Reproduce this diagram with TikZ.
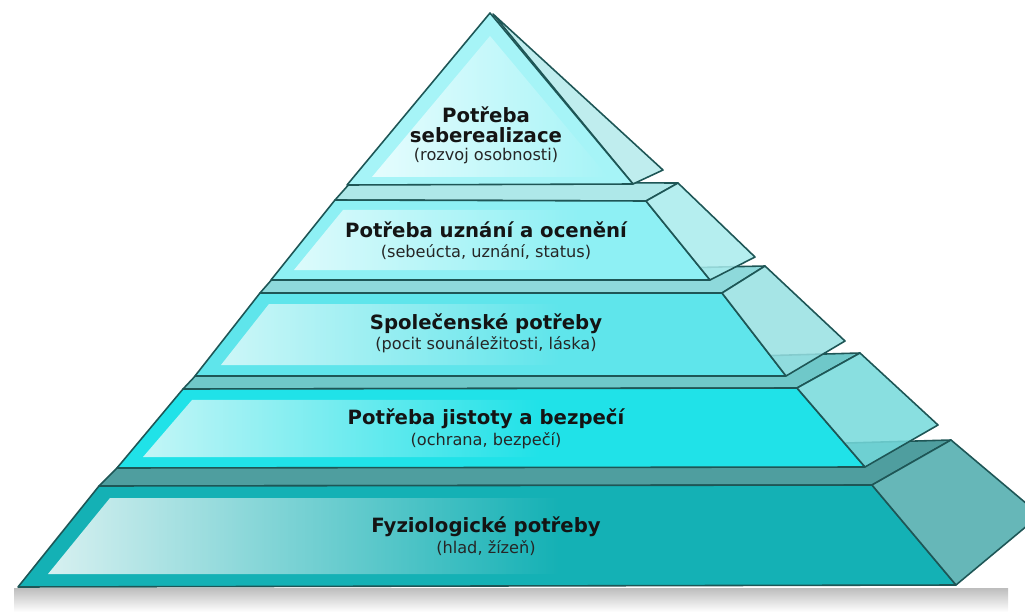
\documentclass[tikz,border=0pt]{standalone}
\usepackage{fontspec}
\setmainfont{DejaVu Sans}
\usetikzlibrary{fadings}

\definecolor{rimcol}{HTML}{1E5656}
\definecolor{face1}{HTML}{A6F4F7}\definecolor{glow1}{HTML}{E6FDFE}\definecolor{side1}{HTML}{B4EAEB}
\definecolor{face2}{HTML}{8EF0F4}\definecolor{glow2}{HTML}{DDFBFC}\definecolor{side2}{HTML}{A8EBEC}
\definecolor{face3}{HTML}{5FE5EB}\definecolor{glow3}{HTML}{CDF7F8}\definecolor{side3}{HTML}{96E0E2}
\definecolor{face4}{HTML}{20E2E8}\definecolor{glow4}{HTML}{C4F6F7}\definecolor{side4}{HTML}{74D9DB}
\definecolor{face5}{HTML}{14B1B5}\definecolor{glow5}{HTML}{D8F1F1}\definecolor{side5}{HTML}{66B7B8}
\definecolor{ledge2}{HTML}{AEE8E9}
\definecolor{ledge3}{HTML}{8ED9DB}
\definecolor{ledge4}{HTML}{6FC8C9}
\definecolor{ledge5}{HTML}{4F9E9F}

\begin{document}
\begin{tikzpicture}[x=0.02cm,y=-0.02cm,
    rim/.style={draw=rimcol,line width=0.9pt,line join=round},
    flank/.style={rim,fill=#1,fill opacity=0.85},
    glow/.style={fill=#1,path fading=east},
    title/.style={font=\fontsize{11.2}{11.6}\selectfont\bfseries,text=black!92,inner sep=0pt},
    note/.style={font=\fontsize{9.2}{11}\selectfont,text=black!85,inner sep=0pt}]

    \useasboundingbox (0,0) rectangle (1025,612);

    % ground shadow
    \shade[top color=black!26,bottom color=white] (14,588) rectangle (1008,612);

    % level 5
    \filldraw[rim,fill=ledge5] (99,486) -- (872,485) -- (951,440) -- (121,464) -- cycle;
    \filldraw[rim,fill=face5] (18,587) -- (956,585) -- (872,485) -- (99,486) -- cycle;
    \fill[glow=glow5] (48,574) -- (560,574) -- (560,498) -- (110,498) -- cycle;
    \filldraw[rim,fill=side5] (872,485) -- (951,440) -- (1040,515) -- (956,585) -- cycle;

    % level 4
    \filldraw[rim,fill=ledge4] (183,389) -- (797,388) -- (860,353) -- (199,372) -- cycle;
    \filldraw[rim,fill=face4] (117,468) -- (865,467) -- (797,388) -- (183,389) -- cycle;
    \fill[glow=glow4] (143,457) -- (540,457) -- (540,400) -- (192,400) -- cycle;
    \filldraw[flank=side4] (797,388) -- (860,353) -- (938,425) -- (865,467) -- cycle;

    % level 3
    \filldraw[rim,fill=ledge3] (260,293) -- (722,293) -- (765,266) -- (274,277) -- cycle;
    \filldraw[rim,fill=face3] (195,376) -- (786,376) -- (722,293) -- (260,293) -- cycle;
    \fill[glow=glow3] (221,365) -- (560,365) -- (560,304) -- (269,304) -- cycle;
    \filldraw[flank=side3] (722,293) -- (765,266) -- (845,341) -- (786,376) -- cycle;

    % level 2
    \filldraw[rim,fill=ledge2] (335,200) -- (646,201) -- (678,183) -- (351,182) -- cycle;
    \filldraw[rim,fill=face2] (271,280) -- (710,280) -- (646,201) -- (335,200) -- cycle;
    \fill[glow=glow2] (294,270) -- (580,270) -- (580,210) -- (343,210) -- cycle;
    \filldraw[flank=side2] (646,201) -- (678,183) -- (755,257) -- (710,280) -- cycle;

    % level 1 (top)
    \filldraw[flank=side1] (493,14) -- (663,170) -- (633,184) -- cycle;
    \filldraw[rim,fill=face1] (347,185) -- (633,184) -- (490,13) -- cycle;
    \fill[glow=glow1] (372,177) -- (608,177) -- (490,36) -- cycle;

    % labels
    \node[title,align=center] (t1) at (486,125) {Potřeba\\seberealizace};
    \node[note] (s1) at (486,156) {(rozvoj osobnosti)};
    \foreach \n/\ty/\sy/\t/\s in {%
        2/230/252/{Potřeba uznání a ocenění}/{(sebeúcta, uznání, status)},
        3/324/345/{Společenské potřeby}/{(pocit sounáležitosti, láska)},
        4/419/441/{Potřeba jistoty a bezpečí}/{(ochrana, bezpečí)},
        5/527/548/{Fyziologické potřeby}/{(hlad, žízeň)}} {
      \node[title] (t\n) at (486,\ty) {\t};
      \node[note] (s\n) at (486,\sy) {\s};
    }
\end{tikzpicture}
\end{document}
